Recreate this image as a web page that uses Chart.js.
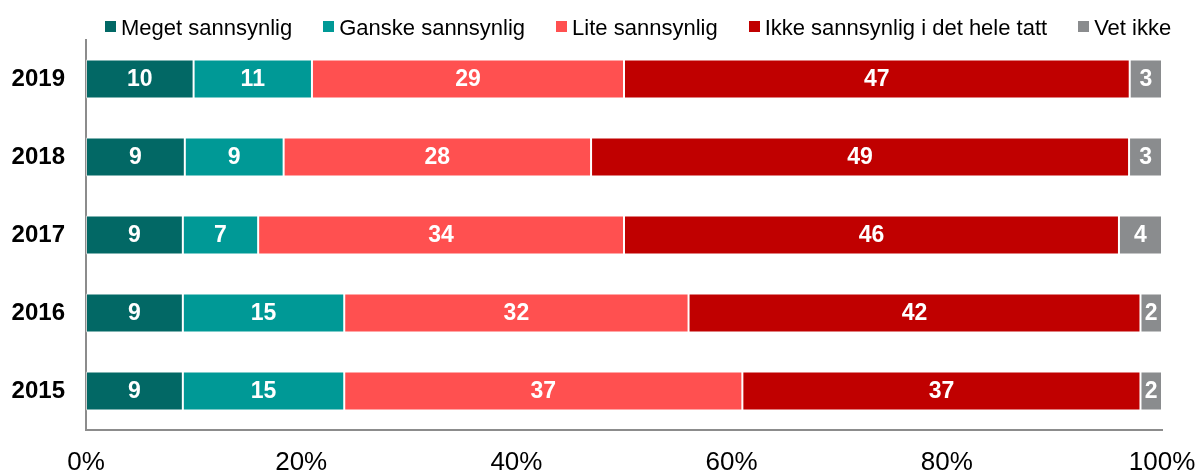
<!DOCTYPE html>
<html>
<head>
<meta charset="utf-8">
<script src="https://cdn.jsdelivr.net/npm/chart.js@4.4.1/dist/chart.umd.min.js"></script>
<style>
  html, body { margin: 0; padding: 0; background: #fff; }
  #wrap { width: 1200px; height: 474px; position: relative; }
  #legend {
    position: absolute; left: 105px; top: 15px;
    display: flex; gap: 31px;
    font-family: "Liberation Sans", Arial, sans-serif; font-size: 22px; color: #000;
    line-height: 26px; white-space: nowrap;
  }
  #legend span.item { display: flex; align-items: center; }
  #legend span.box { width: 11px; height: 11px; margin-right: 5px; display: inline-block; position: relative; top: -2px; }
</style>
</head>
<body>
<div id="wrap"><canvas id="chart"></canvas><div id="legend"></div></div>
<script>
const years = ['2019', '2018', '2017', '2016', '2015'];
const seriesNames = ['Meget sannsynlig', 'Ganske sannsynlig', 'Lite sannsynlig', 'Ikke sannsynlig i det hele tatt', 'Vet ikke'];
const meget   = [10, 9, 9, 9, 9];
const ganske  = [11, 9, 7, 15, 15];
const lite    = [29, 28, 34, 32, 37];
const ikke    = [47, 49, 46, 42, 37];
const vetIkke = [3, 3, 4, 2, 2];
const xTicks = [0, 20, 40, 60, 80, 100];
const colors = ['#026865', '#009996', '#ff5050', '#c00000', '#8a8c8e'];

const raw = [meget, ganske, lite, ikke, vetIkke];
// each row shown as share of 100 %
const totals = years.map((_, i) => raw.reduce((s, arr) => s + arr[i], 0));

// legend
const legendEl = document.getElementById('legend');
seriesNames.forEach((name, i) => {
    const item = document.createElement('span');
    item.className = 'item';
    item.innerHTML = '<span class="box" style="background:' + colors[i] + '"></span>' + name;
    legendEl.appendChild(item);
});

const barLabels = {
    id: 'barLabels',
    afterDatasetsDraw(chart) {
        const ctx = chart.ctx;
        ctx.save();
        ctx.font = 'bold 23px "Liberation Sans", Arial, sans-serif';
        ctx.fillStyle = '#ffffff';
        ctx.textAlign = 'center';
        ctx.textBaseline = 'middle';
        chart.data.datasets.forEach((ds, di) => {
            chart.getDatasetMeta(di).data.forEach((bar, i) => {
                const cx = (bar.x + bar.base) / 2;
                ctx.fillText(String(raw[di][i]), cx, bar.y + 1);
            });
        });
        ctx.restore();
    }
};

const ctx = document.getElementById('chart').getContext('2d');
new Chart(ctx, {
    type: 'bar',
    data: {
        labels: years,
        datasets: raw.map((arr, di) => ({
            label: seriesNames[di],
            data: arr.map((v, i) => v / totals[i] * 100),
            backgroundColor: colors[di],
            borderColor: 'rgba(255,255,255,0.55)',
            borderWidth: 1,
            borderSkipped: false,
            barPercentage: 1,
            categoryPercentage: 0.5
        }))
    },
    options: {
        indexAxis: 'y',
        responsive: true,
        maintainAspectRatio: false,
        animation: false,
        layout: { padding: { left: 0, right: 0, top: 40, bottom: 0 } },
        scales: {
            x: {
                stacked: true,
                min: 0,
                max: 100,
                afterBuildTicks(scale) { scale.ticks = xTicks.map(v => ({ value: v })); },
                afterFit(scale) {
                    scale.height = 44;
                    scale.paddingLeft = 0;
                    scale.paddingRight = 38;
                },
                grid: { display: false, drawTicks: false },
                border: { display: true, color: '#8c8c8c', width: 2 },
                ticks: {
                    padding: 17,
                    color: '#000',
                    font: { family: '"Liberation Sans", Arial, sans-serif', size: 26 },
                    callback: v => v + '%'
                }
            },
            y: {
                stacked: true,
                afterFit(scale) { scale.width = 86; },
                grid: { display: false, drawTicks: false },
                border: { display: true, color: '#8c8c8c', width: 2 },
                ticks: {
                    padding: 21,
                    color: '#000',
                    font: { family: '"Liberation Sans", Arial, sans-serif', size: 24, weight: 'bold' }
                }
            }
        },
        plugins: {
            legend: { display: false },
            tooltip: { enabled: false }
        }
    },
    plugins: [barLabels]
});
</script>
</body>
</html>
